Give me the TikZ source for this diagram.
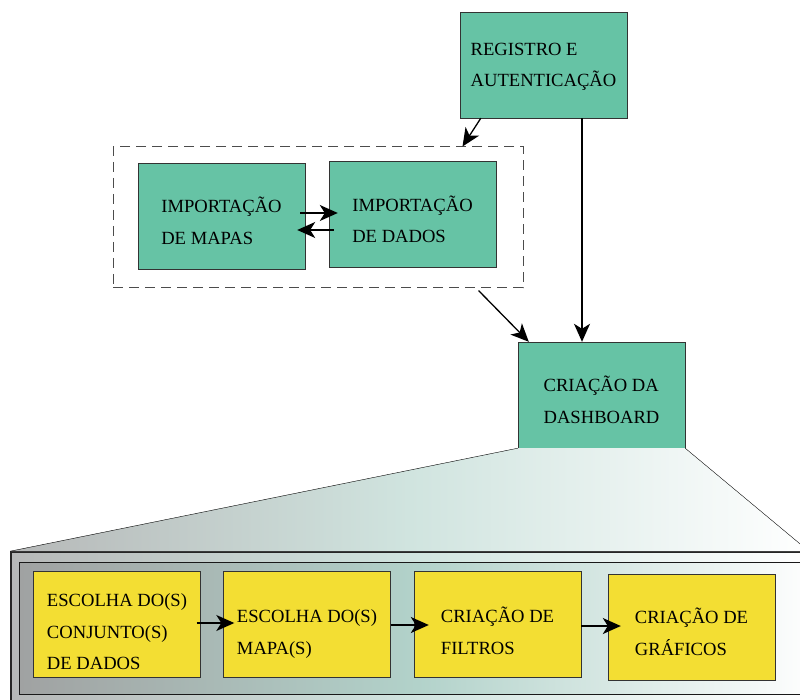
\documentclass[tikz,border=0pt]{standalone}
\usepackage{fontspec}
\setmainfont{Liberation Serif}
\usetikzlibrary{positioning,shapes,arrows.meta}
\definecolor{boxteal}{RGB}{102,195,165}
\definecolor{boxyellow}{RGB}{243,222,51}
\definecolor{shadegray}{RGB}{160,162,162}
\definecolor{shadeteal}{RGB}{178,210,202}
\definecolor{shadelight}{RGB}{182,184,184}
\definecolor{shademid}{RGB}{208,228,223}

\begin{document}
\begin{tikzpicture}
    [x=1pt,y=-1pt,
     box/.style={draw=black!80, inner sep=0pt, minimum width=167pt, minimum height=106pt},
     tealbox/.style={box, fill=boxteal},
     yellowbox/.style={box, fill=boxyellow},
     txt/.style={align=left, inner sep=0pt, yshift=-5pt, font=\fontsize{18.6}{31.5}\selectfont},
     arr/.style={-{Stealth[length=18pt,width=16pt,inset=5pt]}, line width=1.3pt}]
  \useasboundingbox (0,0) rectangle (800,700);
  \clip (0,0) rectangle (800,700);

  \node[tealbox, label={[txt,yshift=3pt]center:{REGISTRO E\\AUTENTICAÇÃO}}] (reg) at (543.5,65) {};
  \node[tealbox, label={[txt]center:{IMPORTAÇÃO\\DE MAPAS}}] (mapas) at (221.5,216) {};
  \node[tealbox, label={[txt]center:{IMPORTAÇÃO\\DE DADOS}}] (dados) at (412.5,214.5) {};
  \node[draw=black!70, dash pattern=on 10pt off 6pt, line width=1pt, inner sep=0pt,
        minimum width=410pt, minimum height=141pt] (grp) at (318,217.5) {};
  \node[tealbox, label={[txt]center:{CRIAÇÃO DA\\DASHBOARD}}] (dash) at (601.5,395) {};

  % painel de baixo
  \node[draw=black!85, line width=1.6pt, left color=shadelight, right color=white, middle color=shademid,
        inner sep=0pt, minimum width=797pt, minimum height=160pt] (outer) at (409.5,632) {};
  \shade[left color=shadelight, right color=white, middle color=shademid]
    (dash.south west) -- (dash.south east) -- (outer.north east) -- (outer.north west) -- cycle;
  \draw (dash.south west) -- (outer.north west);
  \draw (dash.south east) -- (outer.north east);
  \node[draw=black!90, left color=shadegray, right color=white, middle color=shadeteal, inner sep=0pt,
        minimum width=796pt, minimum height=132pt] (inner) at (417,628) {};

  \node[yellowbox, label={[txt,yshift=-3pt]center:{ESCOLHA DO(S)\\CONJUNTO(S)\\DE DADOS}}] (c1) at (117,624) {};
  \node[yellowbox, label={[txt,yshift=-5pt]center:{ESCOLHA DO(S)\\MAPA(S)}}] (c2) at (307,624) {};
  \node[yellowbox, label={[txt,yshift=-2pt]center:{CRIAÇÃO DE\\FILTROS}}] (c3) at (497.5,624) {};
  \node[yellowbox, label={[txt]center:{CRIAÇÃO DE\\GRÁFICOS}}] (c4) at (691.5,627) {};

  \draw[arr] ([xshift=21pt]reg.south west) -- ([xshift=-61pt]grp.north east);
  \draw[arr] ([xshift=38.5pt]reg.south) -- ([xshift=-19.5pt]dash.north);
  \draw[arr] ([xshift=-45pt,yshift=-2pt]grp.south east) -- ([xshift=11pt]dash.north west);
  \draw[arr] ([xshift=-5pt,yshift=3pt]mapas.east) -- ([xshift=9pt,yshift=1.5pt]dados.west);
  \draw[arr] ([xshift=5pt,yshift=-15.5pt]dados.west) -- ([xshift=-8pt,yshift=-14pt]mapas.east);

  \draw[arr] ([xshift=-4pt,yshift=1pt]c1.east) -- ([xshift=11pt,yshift=1pt]c2.west);
  \draw[arr] ([yshift=-1pt]c2.east) -- ([xshift=15pt,yshift=-1pt]c3.west);
  \draw[arr] ([yshift=-2pt]c3.east) -- ([xshift=13pt,yshift=1pt]c4.west);
\end{tikzpicture}
\end{document}
